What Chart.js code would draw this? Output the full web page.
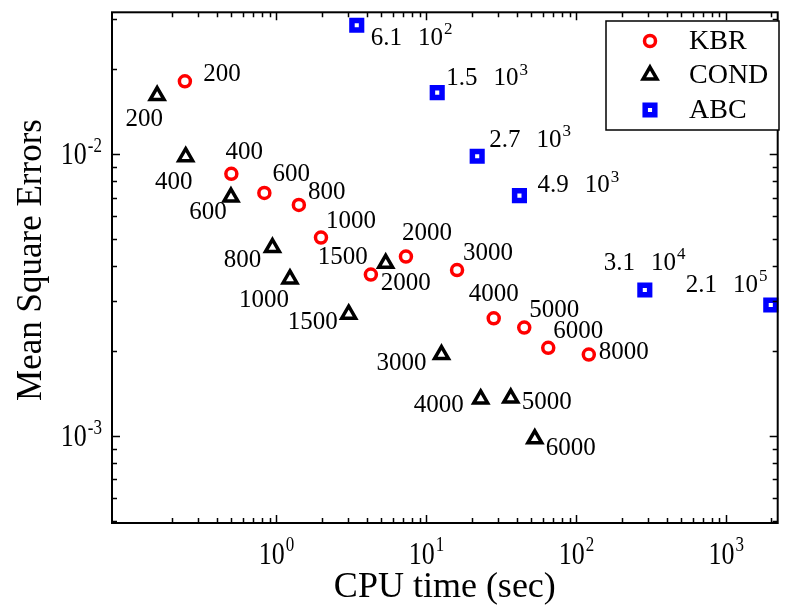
<!DOCTYPE html>
<html>
<head>
<meta charset="utf-8">
<script src="https://cdn.jsdelivr.net/npm/chart.js@4.4.0/dist/chart.umd.min.js"></script>
<style>
  body { margin: 0; background: #fff; }
</style>
</head>
<body>
<canvas id="mse-graph" width="790" height="605"></canvas>
<script>
// KBR
let kbrN    = [200, 400, 600, 800, 1000, 1500, 2000, 3000, 4000, 5000, 6000, 8000];
let kbrTime = [0.245, 0.50, 0.83, 1.41, 1.98, 4.26, 7.30, 16.0, 28.1, 44.9, 64.9, 121];
let kbrErr  = [0.0181, 0.0085, 0.00727, 0.00659, 0.00505, 0.00373, 0.00432, 0.00387, 0.00261, 0.00242, 0.00205, 0.00194];

// COND
let condN    = [200, 400, 600, 800, 1000, 1500, 2000, 3000, 4000, 5000, 6000];
let condTime = [0.160, 0.248, 0.497, 0.94, 1.23, 3.03, 5.35, 12.6, 23.0, 36.5, 52.8];
let condErr  = [0.0161, 0.00977, 0.00703, 0.00465, 0.00360, 0.00270, 0.00409, 0.00194, 0.00135, 0.00136, 0.000975];

// ABC (number of simulations = mantissa x 10^exp)
let abcMant = ['6.1', '1.5', '2.7', '4.9', '3.1', '2.1'];
let abcExp  = ['2', '3', '3', '3', '4', '5'];
let abcTime = [3.43, 11.8, 21.8, 41.7, 286, 1978];
let abcErr  = [0.0286, 0.0165, 0.00981, 0.00711, 0.00329, 0.00291];

// tick labels (powers of ten)
let xTickExp = [0, 1, 2, 3];
let yTickExp = [-2, -3];

// where each point label sits, px from the point
let kbrOff  = [[37,-7],[13,-21],[27,-18],[28,-12],[30,-16],[-28,-17],[21,-23],[31,-17],[0,-24],[30,-17],[30,-16],[35,-2]];
let condOff = [[-13,24],[-12,26],[-23,15],[-30,13],[-26,22],[-36,8],[20,20],[-40,9],[-42,6],[36,4],[36,10]];
let abcOff  = [[14,13],[9,-14],[12,-16],[18,-10],[-41,-27],[-85,-20]];

let serif = '"Liberation Serif", "Times New Roman", serif';

function stretchText(c, txt, x, y, sy) {
    c.save();
    c.translate(x, y);
    c.scale(1, sy);
    c.fillText(txt, 0, 0);
    c.restore();
}

function pointsOf(xs, ys) {
    return xs.map((v, i) => ({ x: v, y: ys[i] }));
}

let figurePlugin = {
    id: 'figure',
    afterDatasetsDraw(chart) {
        let c = chart.ctx;
        c.save();
        c.fillStyle = '#000';
        c.font = '25px ' + serif;
        c.textBaseline = 'middle';

        // KBR + COND labels
        [[0, kbrN, kbrOff], [1, condN, condOff]].forEach(([di, names, offs]) => {
            let meta = chart.getDatasetMeta(di);
            c.textAlign = 'center';
            meta.data.forEach((p, i) => {
                c.fillText(String(names[i]), p.x + offs[i][0], p.y + offs[i][1]);
            });
        });

        // ABC labels  "6.1  10^2"
        let meta = chart.getDatasetMeta(2);
        c.textAlign = 'left';
        meta.data.forEach((p, i) => {
            let lx = p.x + abcOff[i][0];
            let ly = p.y + abcOff[i][1];
            c.font = '25px ' + serif;
            c.textBaseline = 'middle';
            c.fillText(abcMant[i], lx, ly);
            let tx = lx + c.measureText(abcMant[i]).width + 16;
            c.fillText('10', tx, ly);
            let sx = tx + c.measureText('10').width + 1;
            c.font = '17px ' + serif;
            c.textBaseline = 'alphabetic';
            c.fillText(abcExp[i], sx, ly - 4);
        });
        c.restore();
    },
    afterDraw(chart) {
        let c = chart.ctx;
        let a = chart.chartArea;
        let xs = chart.scales.x;
        let ys = chart.scales.y;
        c.save();

        // frame
        c.strokeStyle = '#000';
        c.lineWidth = 2;
        c.strokeRect(a.left, a.top, a.right - a.left, a.bottom - a.top);

        // ticks pointing inward on all four sides
        c.lineWidth = 1.5;
        c.beginPath();
        for (let e = -1; e <= 3; e++) {
            for (let m = 1; m <= 9; m++) {
                let v = m * Math.pow(10, e);
                if (v < 0.15 || v > xs.max) continue;
                let px = Math.round(xs.getPixelForValue(v)) + 0.5;
                let len = m === 1 ? 8 : 5;
                c.moveTo(px, a.bottom); c.lineTo(px, a.bottom - len);
                c.moveTo(px, a.top); c.lineTo(px, a.top + len);
            }
        }
        for (let e = -4; e <= -2; e++) {
            for (let m = 1; m <= 9; m++) {
                let v = m * Math.pow(10, e);
                if (v <= ys.min || v > ys.max) continue;
                let py = Math.round(ys.getPixelForValue(v)) + 0.5;
                let len = m === 1 ? 8 : 5;
                c.moveTo(a.left, py); c.lineTo(a.left + len, py);
                c.moveTo(a.right, py); c.lineTo(a.right - len, py);
            }
        }
        c.stroke();

        // tick labels 10^n
        c.fillStyle = '#000';
        c.textAlign = 'left';
        c.textBaseline = 'alphabetic';
        xTickExp.forEach(e => {
            let px = xs.getPixelForValue(Math.pow(10, e));
            c.font = '26px ' + serif;
            let w1 = c.measureText('10').width;
            c.font = '17px ' + serif;
            let w2 = c.measureText(String(e)).width;
            let x0 = px - (w1 + w2 + 1) / 2;
            c.font = '26px ' + serif;
            stretchText(c, '10', x0, 564, 1.22);
            c.font = '17px ' + serif;
            stretchText(c, String(e), x0 + w1 + 1, 551, 1.22);
        });
        yTickExp.forEach(e => {
            let py = ys.getPixelForValue(Math.pow(10, e));
            c.font = '17px ' + serif;
            let w2 = c.measureText(String(e)).width;
            c.font = '26px ' + serif;
            let w1 = c.measureText('10').width;
            let x0 = 102 - w2 - w1 - 1;
            stretchText(c, '10', x0, py + 10.5, 1.22);
            c.font = '17px ' + serif;
            stretchText(c, String(e), x0 + w1 + 1, py - 2, 1.22);
        });

        // axis titles
        c.font = '36px ' + serif;
        c.textAlign = 'center';
        c.fillText('CPU time (sec)', (a.left + a.right) / 2, 597);
        c.save();
        c.translate(32, 260);
        c.rotate(-Math.PI / 2);
        c.font = '35px ' + serif;
        c.textBaseline = 'middle';
        c.fillText('Mean Square Errors', 0, 0);
        c.restore();

        // legend box
        let lx = 606, ly = 21, lw = 173, lh = 109;
        c.fillStyle = '#fff';
        c.fillRect(lx, ly, lw, lh);
        c.strokeStyle = '#000';
        c.lineWidth = 1.5;
        c.strokeRect(lx, ly, lw, lh);
        let rowY = [41, 75, 110];
        chart.data.datasets.forEach((ds, i) => {
            c.fillStyle = ds.pointBackgroundColor;
            c.strokeStyle = ds.pointBorderColor;
            c.lineWidth = ds.pointBorderWidth;
            Chart.helpers.drawPoint(c, {
                pointStyle: ds.pointStyle,
                rotation: 0,
                radius: ds.pointRadius,
                borderWidth: ds.pointBorderWidth
            }, 650, rowY[i]);
            c.fillStyle = '#000';
            c.font = '28px ' + serif;
            c.textAlign = 'left';
            c.textBaseline = 'middle';
            c.fillText(ds.label, 689, rowY[i] + 1);
        });
        c.restore();
    }
};

let ctx = document.querySelector('#mse-graph').getContext('2d');

let myChart = new Chart(ctx, {
    type: 'scatter',
    data: {
        datasets: [{
            label: 'KBR',
            data: pointsOf(kbrTime, kbrErr),
            pointStyle: 'circle',
            pointRadius: 5.5,
            pointHoverRadius: 5.5,
            pointBorderWidth: 3.5,
            pointBorderColor: '#ff0000',
            pointBackgroundColor: '#ffffff',
            clip: false
        }, {
            label: 'COND',
            data: pointsOf(condTime, condErr),
            pointStyle: 'triangle',
            pointRadius: 8,
            pointHoverRadius: 8,
            pointBorderWidth: 3.5,
            pointBorderColor: '#000000',
            pointBackgroundColor: '#ffffff',
            clip: false
        }, {
            label: 'ABC',
            data: pointsOf(abcTime, abcErr),
            pointStyle: 'rect',
            pointRadius: 6.8,
            pointHoverRadius: 6.8,
            pointBorderWidth: 5.5,
            pointBorderColor: '#0000ff',
            pointBackgroundColor: '#ffffff',
            clip: false
        }]
    },
    options: {
        responsive: false,
        animation: false,
        layout: { padding: { top: 10, right: 2, left: 0, bottom: 0 } },
        plugins: {
            legend: { display: false },
            tooltip: { enabled: false }
        },
        scales: {
            x: {
                type: 'logarithmic',
                min: 0.08,
                max: 2200,
                ticks: { display: false },
                grid: { display: false },
                border: { display: false },
                afterFit: function (scale) { scale.height = 82; }
            },
            y: {
                type: 'logarithmic',
                min: 0.00049,
                max: 0.0318,
                ticks: { display: false },
                grid: { display: false },
                border: { display: false },
                afterFit: function (scale) { scale.width = 112; }
            }
        }
    },
    plugins: [figurePlugin]
});
</script>
</body>
</html>
